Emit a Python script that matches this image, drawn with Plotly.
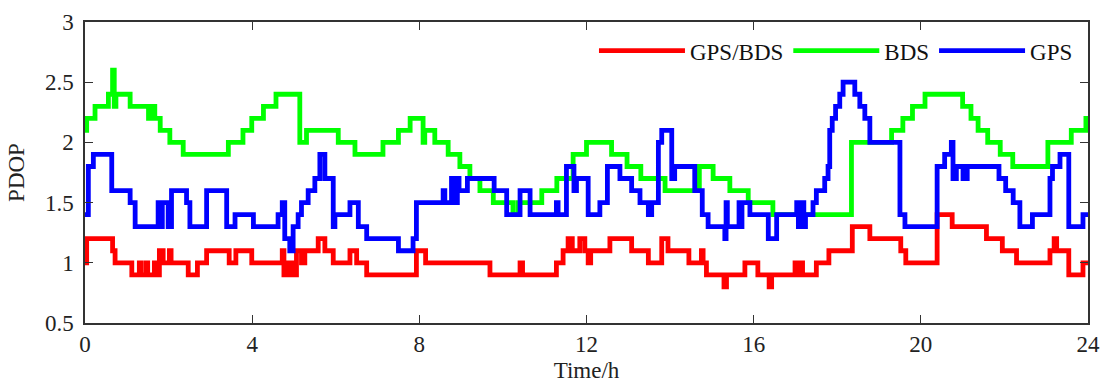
import plotly.graph_objects as go

# ---- data (change times in hours, value held until next change) ----
gpsbds_t = [0, 0.04, 0.66, 0.72, 1.12, 1.30, 1.34, 1.46, 1.50, 1.66, 1.70, 1.78, 1.87, 2.02, 2.06,
            2.47, 2.69, 2.91, 3.45, 3.61, 3.99, 4.72, 4.76, 4.84, 4.88, 4.96, 5.00, 5.06, 5.18,
            5.26, 5.58, 5.74, 5.94, 6.34, 6.50, 6.74, 7.93, 8.15, 9.69, 10.41, 10.47, 11.28,
            11.44, 11.56, 11.66, 11.84, 11.96, 12.04, 12.10, 12.56, 13.08, 13.48, 13.80, 13.95,
            14.45, 14.75, 14.79, 14.87, 15.29, 15.35, 15.79, 16.10, 16.37, 16.43, 16.99, 17.05,
            17.09, 17.17, 17.50, 17.80, 18.36, 18.78, 19.52, 19.64, 20.39, 20.75, 21.57, 21.95,
            22.29, 23.09, 23.19, 23.25, 23.54, 23.88, 24]
gpsbds_v = [1.0, 1.2, 1.1, 1.0, 0.9, 1.0, 0.9, 1.0, 0.9, 1.0, 0.9, 1.1, 1.0, 1.1, 1.0,
            0.9, 1.0, 1.1, 1.0, 1.1, 1.0, 1.1, 0.9, 1.0, 0.9, 1.0, 0.9, 1.1, 1.0,
            1.1, 1.2, 1.1, 1.0, 1.1, 1.0, 0.9, 1.1, 1.0, 0.9, 1.0, 0.9, 1.0,
            1.1, 1.2, 1.1, 1.2, 1.1, 1.0, 1.1, 1.2, 1.1, 1.0, 1.2, 1.1,
            1.0, 1.1, 1.0, 0.9, 0.8, 0.9, 1.0, 0.9, 0.8, 0.9, 1.0, 0.9,
            1.0, 0.9, 1.0, 1.1, 1.3, 1.2, 1.1, 1.0, 1.4, 1.3, 1.2, 1.1,
            1.0, 1.1, 1.2, 1.1, 0.9, 1.0, 1.0]

bds_t = [0, 0.04, 0.24, 0.56, 0.66, 0.70, 0.74, 1.08, 1.52, 1.62, 1.67, 1.80, 2.03, 2.35,
         3.43, 3.78, 3.99, 4.27, 4.57, 5.14, 5.30, 6.06, 6.46, 7.13, 7.50, 7.78, 8.09, 8.13,
         8.37, 8.69, 8.97, 9.21, 9.45, 9.77, 10.24, 10.36, 10.93, 11.29, 11.68, 12.00, 12.60,
         12.97, 13.30, 13.88, 14.70, 15.03, 15.43, 15.87, 16.46, 18.34, 19.30, 19.57, 19.80,
         20.10, 21.00, 21.20, 21.37, 21.60, 21.90, 22.20, 23.04, 23.60, 23.95, 24]
bds_v = [2.1, 2.2, 2.3, 2.4, 2.6, 2.3, 2.4, 2.3, 2.2, 2.3, 2.2, 2.1, 2.0, 1.9,
         2.0, 2.1, 2.2, 2.3, 2.4, 2.0, 2.1, 2.0, 1.9, 2.0, 2.1, 2.2, 2.0, 2.1,
         2.0, 1.9, 1.8, 1.7, 1.6, 1.5, 1.4, 1.5, 1.6, 1.7, 1.9, 2.0, 1.9,
         1.8, 1.7, 1.6, 1.8, 1.7, 1.6, 1.5, 1.4, 2.0, 2.1, 2.2, 2.3,
         2.4, 2.3, 2.2, 2.1, 2.0, 1.9, 1.8, 2.0, 2.1, 2.2, 2.2]

gps_t = [0, 0.08, 0.20, 0.64, 1.08, 1.20, 1.75, 1.80, 1.85, 1.99, 2.07, 2.43, 2.51, 2.91,
         3.39, 3.59, 4.03, 4.62, 4.72, 4.78, 4.90, 4.98, 5.10, 5.18, 5.34, 5.50, 5.62, 5.74,
         5.94, 5.98, 6.34, 6.54, 6.74, 7.50, 7.85, 7.93, 8.57, 8.61, 8.77, 8.83, 8.91, 8.95,
         9.15, 9.79, 10.09, 10.41, 10.65, 11.28, 11.32, 11.52, 11.70, 11.76, 12.04, 12.32,
         12.50, 12.80, 13.08, 13.28, 13.48, 13.56, 13.72, 13.80, 14.04, 14.11, 14.59, 14.77,
         14.91, 15.31, 15.34, 15.37, 15.65, 15.68, 15.72, 15.91, 16.35, 16.55, 17.03, 17.07,
         17.10, 17.20, 17.24, 17.42, 17.50, 17.70, 17.78, 17.82, 17.88, 17.96, 18.06, 18.14,
         18.42, 18.54, 18.66, 18.78, 19.50, 19.62, 20.39, 20.57, 20.73, 20.77, 20.85, 21.01,
         21.11, 21.87, 22.03, 22.21, 22.37, 22.67, 23.09, 23.15, 23.33, 23.54, 23.88, 24]
gps_v = [1.4, 1.8, 1.9, 1.6, 1.5, 1.3, 1.5, 1.3, 1.5, 1.3, 1.6, 1.5, 1.3, 1.6,
         1.3, 1.4, 1.3, 1.4, 1.5, 1.2, 1.1, 1.3, 1.4, 1.5, 1.6, 1.7, 1.9, 1.7,
         1.3, 1.4, 1.5, 1.3, 1.2, 1.1, 1.2, 1.5, 1.6, 1.5, 1.7, 1.5, 1.7, 1.6,
         1.7, 1.6, 1.4, 1.6, 1.4, 1.5, 1.4, 1.8, 1.6, 1.7, 1.4, 1.5,
         1.8, 1.7, 1.6, 1.5, 1.4, 1.5, 2.0, 2.1, 1.7, 1.8, 1.6, 1.4,
         1.3, 1.2, 1.5, 1.3, 1.5, 1.3, 1.5, 1.4, 1.2, 1.4, 1.5, 1.3,
         1.5, 1.3, 1.4, 1.5, 1.6, 1.7, 1.8, 2.1, 2.2, 2.3, 2.4, 2.5,
         2.4, 2.3, 2.2, 2.0, 1.4, 1.3, 1.8, 1.9, 2.0, 1.7, 1.8, 1.7,
         1.8, 1.7, 1.6, 1.5, 1.3, 1.4, 1.7, 1.8, 1.9, 1.3, 1.4, 1.4]

x_ticks = [0, 4, 8, 12, 16, 20, 24]
y_ticks = [0.5, 1, 1.5, 2, 2.5, 3]
y_tick_text = ["0.5", "1", "1.5", "2", "2.5", "3"]

FONT = "Liberation Serif, Times New Roman, serif"

fig = go.Figure()
for name, t, v, col in [("GPS/BDS", gpsbds_t, gpsbds_v, "#FF0000"),
                        ("BDS", bds_t, bds_v, "#00FF00"),
                        ("GPS", gps_t, gps_v, "#0000FF")]:
    fig.add_trace(go.Scatter(x=t, y=v, mode="lines", name=name,
                             line=dict(color=col, width=4.8, shape="hv")))

axis_common = dict(showgrid=False, zeroline=False, showline=True, mirror="ticks",
                   linecolor="#333333", linewidth=1.5, ticks="inside", ticklen=8,
                   tickwidth=1.3, tickcolor="#333333", automargin=False,
                   tickfont=dict(family=FONT, size=23, color="#222222"))

fig.update_layout(
    width=1102, height=383,
    margin=dict(l=85, r=14, t=22, b=60),
    paper_bgcolor="white", plot_bgcolor="white",
    font=dict(family=FONT, size=23, color="#222222"),
    xaxis=dict(range=[0, 24], tickvals=x_ticks, ticktext=[str(v) for v in x_ticks],
               title=dict(text="Time/h", font=dict(family=FONT, size=23), standoff=6),
               **axis_common),
    yaxis=dict(range=[0.5, 3], tickvals=y_ticks, ticktext=y_tick_text,
               ticklabelstandoff=5,
               title=dict(text="PDOP", font=dict(family=FONT, size=23), standoff=14),
               **axis_common),
    legend=dict(orientation="h", x=0.99, xanchor="right", y=0.905, yanchor="middle",
                bgcolor="rgba(0,0,0,0)", font=dict(family=FONT, size=23, color="#111111"),
                itemwidth=86, tracegroupgap=0),
    showlegend=True,
)

fig.write_html("out.html")
